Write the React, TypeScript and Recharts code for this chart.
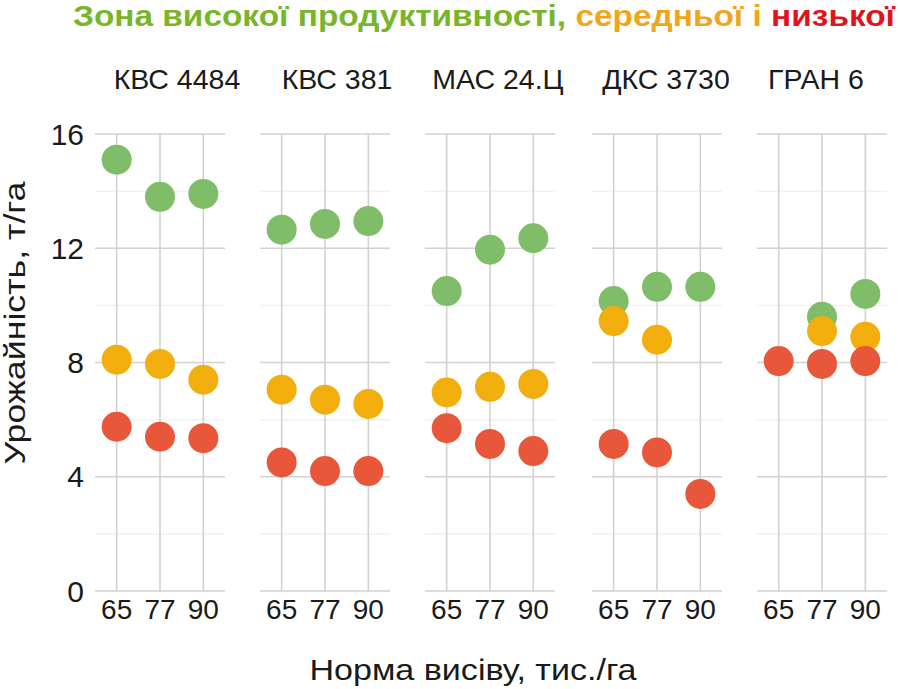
import React from 'react';
import { ComposedChart, Scatter, XAxis, YAxis, CartesianGrid, ReferenceLine } from 'recharts';

// ---- data ----
const doses = ['65', '77', '90'];
const hybrids = ['КВС 4484', 'КВС 381', 'МАС 24.Ц', 'ДКС 3730', 'ГРАН 6'];
const highZone: (number | null)[][] = [
  [15.1, 13.8, 13.9],
  [12.65, 12.85, 12.95],
  [10.5, 11.95, 12.35],
  [10.15, 10.65, 10.65],
  [null, 9.6, 10.4],
];
const midZone: (number | null)[][] = [
  [8.1, 7.95, 7.4],
  [7.05, 6.7, 6.55],
  [6.95, 7.15, 7.25],
  [9.45, 8.8, null],
  [null, 9.1, 8.9],
];
const lowZone: (number | null)[][] = [
  [5.75, 5.4, 5.35],
  [4.5, 4.2, 4.2],
  [5.7, 5.15, 4.9],
  [5.15, 4.85, 3.4],
  [8.05, 7.95, 8.05],
];
const majorTicks = [0, 4, 8, 12, 16];
const minorTicks = [2, 6, 10, 14];

// ---- layout / style ----
const FONT = '"Liberation Sans", Arial, Helvetica, sans-serif';
const W = 900;
const H = 689;
const PLOT_TOP = 134;
const PLOT_BOTTOM = 591;
const PLOT_W = 130;
const X_PAD = PLOT_W / 6;
const Y_AXIS_W = 95;
const X_AXIS_H = 40;
const plotLefts = [95, 260, 425, 592, 757];
const labelCenters = [177, 337, 498, 666, 816];
const GREEN = '#7fbd68';
const ORANGE = '#f2ae0c';
const RED = '#e8573a';
const GRID = '#d2d2d2';
const MINOR = '#f1f1f1';

function makeDot(color: string, key: string) {
  return (props: any) => {
    const { cx, cy, payload } = props;
    if (!payload || payload[key] == null || cx == null || cy == null || isNaN(cy)) return <g />;
    return <circle cx={cx} cy={cy} r={15} fill={color} />;
  };
}

function Panel({ index }: { index: number }) {
  const rows = doses.map((d, j) => ({
    dose: d,
    high: highZone[index][j],
    mid: midZone[index][j],
    low: lowZone[index][j],
  }));
  const first = index === 0;
  const w = PLOT_W + (first ? Y_AXIS_W : 0);
  return (
    <div style={{ position: 'absolute', left: plotLefts[index] - (first ? Y_AXIS_W : 0), top: 0 }}>
      <ComposedChart
        width={w}
        height={H}
        data={rows}
        margin={{ top: PLOT_TOP, bottom: H - PLOT_BOTTOM - X_AXIS_H, left: 0, right: 0 }}
      >
        {minorTicks.map((v) => (
          <ReferenceLine key={'m' + v} y={v} stroke={MINOR} strokeWidth={1.5} />
        ))}
        <CartesianGrid stroke={GRID} strokeWidth={1.6} vertical={false} />
        {doses.map((d) => (
          <ReferenceLine key={'v' + d} x={d} stroke={GRID} strokeWidth={1.6} />
        ))}
        <XAxis
          dataKey="dose"
          type="category"
          height={X_AXIS_H}
          padding={{ left: X_PAD, right: X_PAD }}
          axisLine={false}
          tickLine={false}
          tickSize={0}
          tickMargin={8}
          interval={0}
          tick={{ fontSize: 28, fill: '#1a1a1a', fontFamily: FONT }}
        />
        <YAxis
          type="number"
          domain={[0, 16]}
          ticks={majorTicks}
          hide={!first}
          width={Y_AXIS_W}
          axisLine={false}
          tickLine={false}
          tickSize={0}
          tickMargin={11}
          tick={{ fontSize: 30, fill: '#1a1a1a', fontFamily: FONT }}
        />
        <Scatter dataKey="high" shape={makeDot(GREEN, 'high')} isAnimationActive={false} />
        <Scatter dataKey="mid" shape={makeDot(ORANGE, 'mid')} isAnimationActive={false} />
        <Scatter dataKey="low" shape={makeDot(RED, 'low')} isAnimationActive={false} />
      </ComposedChart>
    </div>
  );
}

export default function App() {
  return (
    <div style={{ position: 'absolute', left: 0, top: 0, width: W, height: H, background: '#fff', overflow: 'hidden' }}>
      {hybrids.map((_, i) => (
        <Panel key={i} index={i} />
      ))}
      <svg width={W} height={H} style={{ position: 'absolute', left: 0, top: 0, pointerEvents: 'none' }}>
        <text
          x={73}
          y={26}
          fontFamily={FONT}
          fontWeight="bold"
          fontSize={30}
          textLength={822}
          lengthAdjust="spacingAndGlyphs"
        >
          <tspan fill="#79b52b">Зона високої продуктивності, </tspan>
          <tspan fill="#f0a61a">середньої і </tspan>
          <tspan fill="#e0141e">низької</tspan>
        </text>
        {hybrids.map((h, i) => (
          <text key={h} x={labelCenters[i]} y={89} textAnchor="middle" fontFamily={FONT} fontSize={28.5} fill="#1a1a1a">
            {h}
          </text>
        ))}
        <text
          x={0}
          y={0}
          transform="translate(25 323) rotate(-90)"
          textAnchor="middle"
          fontFamily={FONT}
          fontSize={30}
          fill="#1a1a1a"
          textLength={283}
          lengthAdjust="spacingAndGlyphs"
        >
          Урожайність, т/га
        </text>
        <text
          x={473}
          y={680}
          textAnchor="middle"
          fontFamily={FONT}
          fontSize={30}
          fill="#1a1a1a"
          textLength={327}
          lengthAdjust="spacingAndGlyphs"
        >
          Норма висіву, тис./га
        </text>
      </svg>
    </div>
  );
}
